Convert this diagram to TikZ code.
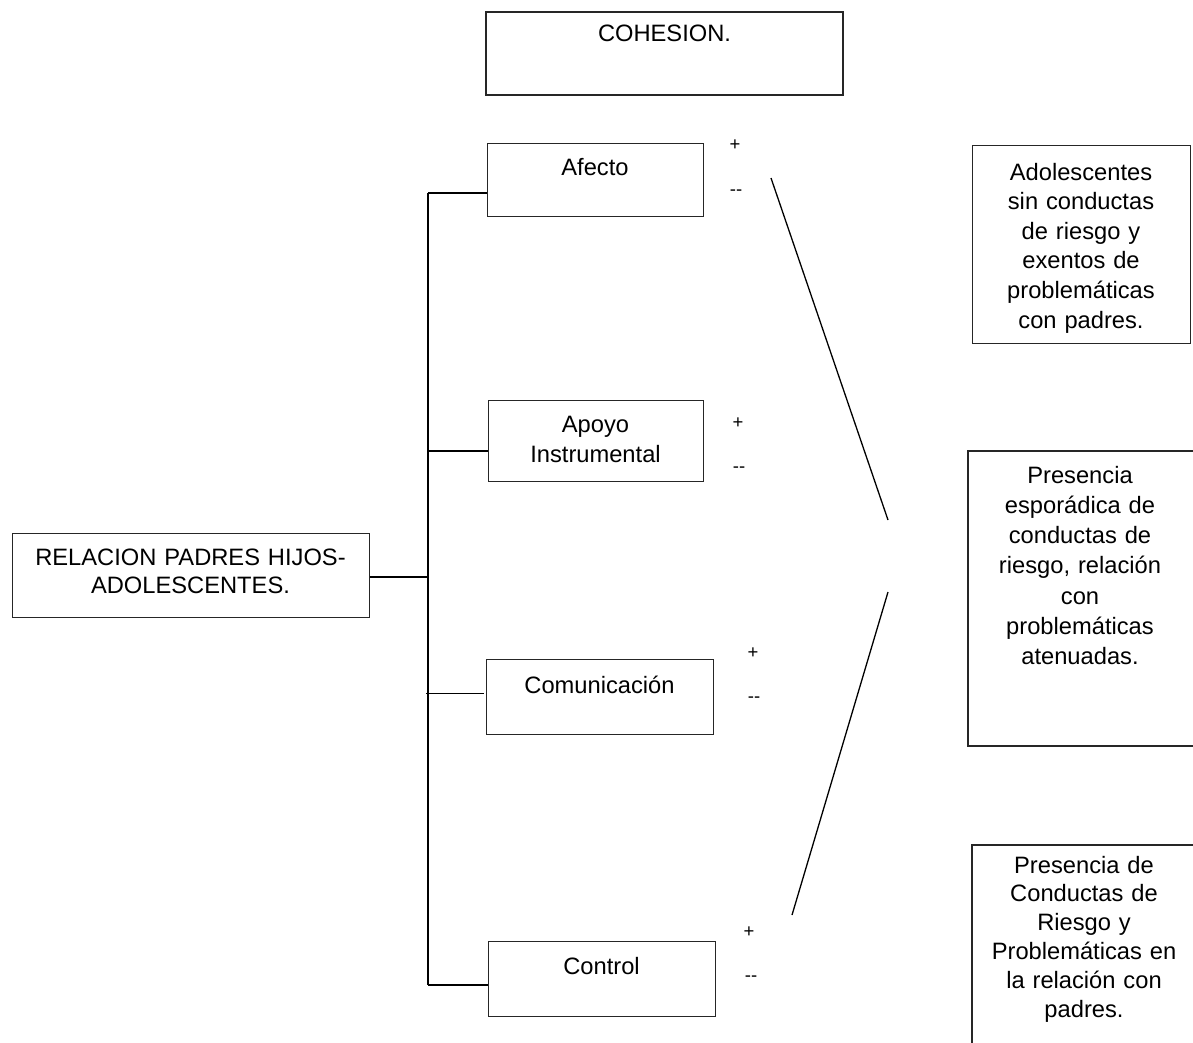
\documentclass[tikz,border=0pt]{standalone}
\usepackage{fontspec}
\setmainfont{Liberation Sans}
\tikzset{
  boxshape/.style={draw=black!85, line width=1.3pt, inner sep=0pt},
  boxtext/.style={anchor=base, inner sep=0pt, align=center, font=\fontsize{23.7}{30}\selectfont},
  sign/.style={inner sep=0pt, font=\fontsize{18.5}{20}\selectfont},
  conn/.style={draw=black, line width=2pt},
  thinconn/.style={draw=black, line width=0.9pt},
  diag/.style={draw=black, line width=1.3pt},
}
\newcommand{\dbldash}{{-}{-}}
\begin{document}
\begin{tikzpicture}[x=1pt,y=-1pt]
\clip (0,0) rectangle (1193,1042);
\fill[white] (0,0) rectangle (1193,1042);

% boxes
\draw[boxshape] (486,12) rectangle (843,95);
\node[boxtext, text width=340pt] (cohT) at (664.5,41.5) {COHESION.};

\node[boxshape, anchor=north west, minimum width=216pt, minimum height=73pt] (afecto) at (487,143) {};
\node[boxtext, text width=200pt] (afectoT) at (595,175) {Afecto};

\node[boxshape, anchor=north west, minimum width=215pt, minimum height=81pt] (apoyo) at (488,400) {};
\node[boxtext, text width=200pt] (apoyoT) at (595.5,432) {Apoyo\\Instrumental};

\node[boxshape, anchor=north west, minimum width=227pt, minimum height=75pt] (comun) at (486,659) {};
\node[boxtext, text width=215pt] (comunT) at (599.5,693) {Comunicación};

\node[boxshape, anchor=north west, minimum width=227pt, minimum height=75pt] (control) at (488,941) {};
\node[boxtext, text width=215pt] (controlT) at (601.5,974) {Control};

\node[boxshape, anchor=north west, minimum width=357pt, minimum height=84pt] (relacion) at (12,533) {};
\node[boxtext, text width=345pt, font=\fontsize{23.7}{28}\selectfont] (relacionT) at (190.5,565) {RELACION PADRES HIJOS-\\ADOLESCENTES.};

\node[boxshape, anchor=north west, minimum width=218pt, minimum height=198pt] (r1) at (972,145) {};
\node[boxtext, text width=210pt, font=\fontsize{23.7}{29.6}\selectfont] (r1T) at (1081,180) {Adolescentes\\sin conductas\\de riesgo y\\exentos de\\problemáticas\\con padres.};

\draw[boxshape] (968,451) rectangle (1197,746);
\node[boxtext, text width=215pt, font=\fontsize{23.7}{30.3}\selectfont] (r2T) at (1080,483) {Presencia\\esporádica de\\conductas de\\riesgo, relación\\con\\problemáticas\\atenuadas.};

\draw[boxshape] (972,845) rectangle (1198,1060);
\node[boxtext, text width=215pt, font=\fontsize{23.7}{28.8}\selectfont] (r3T) at (1084,873) {Presencia de\\Conductas de\\Riesgo y\\Problemáticas en\\la relación con\\padres.};

% signs
\node[sign] (pA) at (735,145) {+};
\node[sign] (mA) at (736,193) {\dbldash};
\node[sign] (pB) at (738,423) {+};
\node[sign] (mB) at (739,470) {\dbldash};
\node[sign] (pC) at (753,653) {+};
\node[sign] (mC) at (754,700) {\dbldash};
\node[sign] (pD) at (749,932) {+};
\node[sign] (mD) at (751,979) {\dbldash};

% spine and connectors
\coordinate (sA) at (428,193);
\coordinate (sB) at (428,451);
\coordinate (sR) at (428,577);
\coordinate (sC) at (426,693);
\coordinate (sD) at (428,985);
\draw[conn] (sA) -- (sD);
\draw[conn] (sA) -- (sA -| afecto.west);
\draw[conn] (sB) -- (sB -| apoyo.west);
\draw[conn] (relacion.east |- sR) -- (sR);
\draw[thinconn] (sC) -- ([xshift=-2pt]sC -| comun.west);
\draw[conn] (sD) -- (sD -| control.west);

% diagonal lines
\coordinate (d1a) at (771,178);
\coordinate (d1b) at (888,520);
\coordinate (d2a) at (888,592);
\coordinate (d2b) at (792,915);
\draw[diag] (d1a) -- (d1b);
\draw[diag] (d2a) -- (d2b);
\end{tikzpicture}
\end{document}
